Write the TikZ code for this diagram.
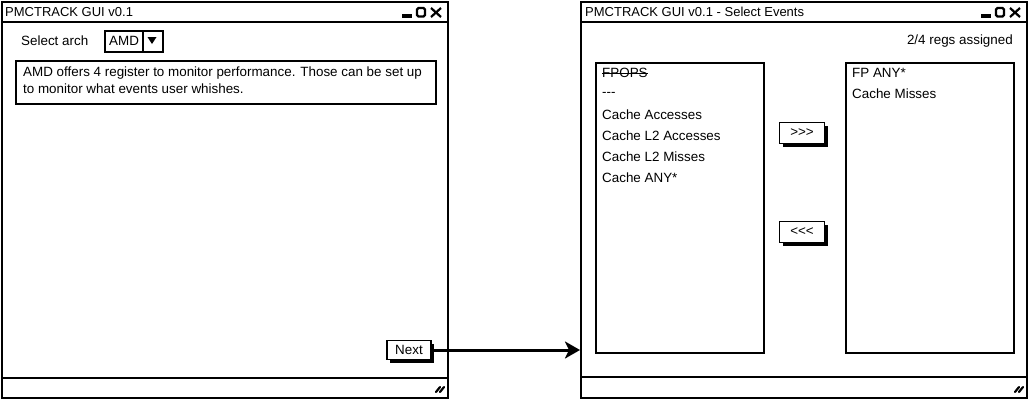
\documentclass[tikz,border=0pt]{standalone}
\usepackage{fontspec}
\setmainfont{Liberation Sans}
\usetikzlibrary{arrows.meta,shadows}
\begin{document}
\begin{tikzpicture}[x=1pt,y=-1pt,
  win/.style={draw, line width=2pt, fill=white, anchor=north west, inner sep=0pt, minimum width=446pt, minimum height=396pt},
  box/.style={draw, line width=2pt, fill=white, anchor=north west, inner sep=0pt},
  txt/.style={anchor=west, inner sep=0pt, font=\fontsize{13.4}{15}\selectfont},
  btn/.style={draw, line width=1.5pt, fill=white, inner sep=0pt, font=\fontsize{13.4}{15}\selectfont,
     drop shadow={shadow xshift=3pt, shadow yshift=-3pt, fill=black, opacity=1}},
  sep/.style={line width=2pt},
  ctl/.style={line width=2.2pt},
  conn/.style={line width=3pt, -{Stealth[length=15pt,width=17pt,inset=4pt]}}
]
\useasboundingbox (0,0) rectangle (1029,400);

% ---------- left window ----------
\node[win] (w1) at (1,1) {};
\draw[sep] (1,22) -- (447,22);
\draw[sep] (1,378) -- (447,378);
\node[txt, font=\fontsize{13}{15}\selectfont] (t1) at (5,12) {PMCTRACK GUI v0.1};
% window controls
\fill (402,14) rectangle (412,17.5);
\draw[ctl, rounded corners=1.5pt] (417,8) rectangle (425,16.5);
\draw[ctl] (431,8) -- (441,17) (441,8) -- (431,17);
% resize grip
\draw[line width=2.2pt, line cap=round] (436,392) -- (440,387) (440,392) -- (444,387);

\node[txt] (sel) at (21,41) {Select arch};
\node[box, minimum width=58pt, minimum height=21pt] (dd) at (104,30) {};
\node[txt] (amd) at (109,40.5) {AMD};
\draw[line width=1.5pt] (143,30) -- (143,51);
\fill (147.5,37) -- (156.5,37) -- (152,44) -- cycle;

\node[box, minimum width=420pt, minimum height=43pt] (info) at (15,60) {};
\node[txt] (l1) at (23,73.5) {AMD offers 4 register to monitor performance. Those can be set up};
\node[txt] (l2) at (23,89) {to monitor what events user whishes.};

\node[btn, minimum width=44pt, minimum height=19pt] (next) at (409,350) {Next};

% ---------- right window ----------
\node[win] (w2) at (580,1) {};
\draw[sep] (580,22) -- (1026,22);
\draw[sep] (580,377) -- (1026,377);
\node[txt, font=\fontsize{13}{15}\selectfont] (t2) at (585,12) {PMCTRACK GUI v0.1 - Select Events};
\fill (981,14) rectangle (991,17.5);
\draw[ctl, rounded corners=1.5pt] (996,8) rectangle (1004,16.5);
\draw[ctl] (1010,8) -- (1020,17) (1020,8) -- (1010,17);
\draw[line width=2.2pt, line cap=round] (1015,392) -- (1019,387) (1019,392) -- (1023,387);

\node[txt, anchor=east] (regs) at (1013,41) {2/4 regs assigned};

\node[box, line width=1.6pt, minimum width=168pt, minimum height=290pt] (lst1) at (595,62) {};
\node[box, line width=1.6pt, minimum width=168pt, minimum height=290pt] (lst2) at (845,62) {};

\node[txt] (e1) at (602,73) {FPOPS};
\draw[line width=0.8pt] (e1.west) -- (e1.east);
\node[txt] (e2) at (602,94) {-{}-{}-};
\node[txt] (e3) at (602,114.5) {Cache Accesses};
\node[txt] (e4) at (602,135.5) {Cache L2 Accesses};
\node[txt] (e5) at (602,156.5) {Cache L2 Misses};
\node[txt] (e6) at (602,177.5) {Cache ANY*};

\node[txt] (f1) at (852,72.5) {FP ANY*};
\node[txt] (f2) at (852,93.5) {Cache Misses};

\node[btn, minimum width=45pt, minimum height=21pt] (add) at (802,133) {>{}>{}>};
\node[btn, minimum width=45pt, minimum height=21pt] (rem) at (802,232) {<{}<{}<};

% ---------- connector ----------
\coordinate (tgt) at (w2.west |- next.east);
\draw[conn] (next.east) -- (tgt);
\end{tikzpicture}
\end{document}
